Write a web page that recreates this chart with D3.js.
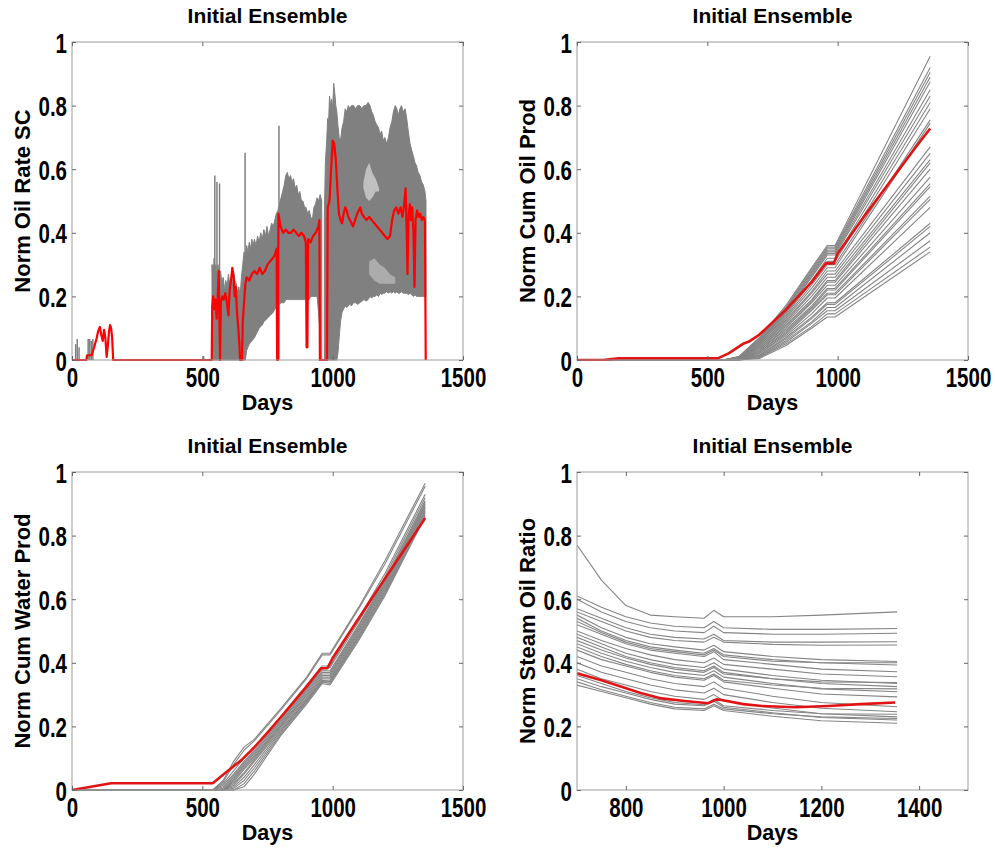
<!DOCTYPE html>
<html>
<head>
<meta charset="utf-8">
<script src="https://cdn.jsdelivr.net/npm/d3@7"></script>
<style>
  body { margin: 0; background: #fff; }
  svg text { font-family: 'Liberation Sans', Arial, Helvetica, sans-serif; font-weight: bold; fill: #000; }
</style>
</head>
<body>
<svg id="chart" width="995" height="848"></svg>
<script>
// ---- data (values normalised 0..1) ----

var xTicksFull = [0, 500, 1000, 1500]
  , xTicksSor = [800, 1000, 1200, 1400]
  , yTicks = [0, 0.2, 0.4, 0.6, 0.8, 1];

// panel 1: oil rate. grey ensemble shown as its envelope + isolated spikes
var bandADays  = [537, 541, 545, 549, 552, 556, 560, 565, 570, 575, 580, 585, 590, 595, 600, 605, 610, 615, 620, 625, 630, 635, 640, 645, 650, 655, 660, 665, 670, 675, 680, 685, 690, 695, 700, 706, 712, 718, 724, 730, 736, 742, 748, 754, 760, 766, 772, 778, 784, 790, 796, 802, 808, 814, 820, 826, 832, 838, 844, 850, 856, 862, 868, 874, 880, 886, 892, 898, 904, 910, 916, 922, 928, 934, 940, 946, 952, 958];
var bandAUpper = [0.30, 0.24, 0.32, 0.27, 0.30, 0.25, 0.30, 0.26, 0.28, 0.24, 0.26, 0.22, 0.25, 0.23, 0.27, 0.24, 0.26, 0.23, 0.28, 0.25, 0.24, 0.21, 0.23, 0.20, 0.26, 0.30, 0.34, 0.32, 0.36, 0.34, 0.37, 0.35, 0.38, 0.36, 0.38, 0.36, 0.39, 0.37, 0.40, 0.38, 0.41, 0.39, 0.42, 0.39, 0.41, 0.43, 0.42, 0.44, 0.46, 0.47, 0.49, 0.51, 0.53, 0.55, 0.58, 0.59, 0.57, 0.58, 0.56, 0.57, 0.54, 0.55, 0.52, 0.53, 0.50, 0.50, 0.48, 0.48, 0.46, 0.47, 0.45, 0.44, 0.48, 0.49, 0.51, 0.50, 0.52, 0.50];
var bandALower = [0, 0, 0, 0, 0, 0, 0, 0, 0, 0, 0, 0, 0, 0, 0, 0, 0, 0, 0, 0, 0, 0, 0, 0, 0, 0, 0, 0, 0.03, 0.04, 0.05, 0.055, 0.06, 0.065, 0.07, 0.08, 0.09, 0.1, 0.105, 0.11, 0.12, 0.125, 0.13, 0.135, 0.14, 0.145, 0.15, 0.16, 0.165, 0.17, 0.175, 0.18, 0.18, 0.18, 0.19, 0.19, 0.19, 0.19, 0.19, 0.19, 0.19, 0.19, 0.19, 0.19, 0.19, 0.19, 0.19, 0.19, 0.19, 0.19, 0.2, 0.2, 0.2, 0.2, 0.2, 0.15, 0.08, 0];

var bandBDays  = [968, 972, 977, 981, 984, 988, 992, 996, 1000, 1004, 1008, 1012, 1016, 1020, 1025, 1030, 1036, 1042, 1048, 1054, 1060, 1066, 1072, 1080, 1088, 1096, 1104, 1112, 1120, 1128, 1136, 1143, 1150, 1156, 1163, 1169, 1176, 1182, 1188, 1194, 1200, 1207, 1214, 1220, 1227, 1233, 1240, 1246, 1252, 1258, 1264, 1271, 1278, 1284, 1290, 1297, 1303, 1310, 1316, 1322, 1328, 1335, 1341, 1348, 1354, 1358];
var bandBUpper = [0.45, 0.62, 0.69, 0.76, 0.74, 0.83, 0.80, 0.82, 0.79, 0.87, 0.84, 0.80, 0.78, 0.74, 0.70, 0.69, 0.73, 0.75, 0.79, 0.78, 0.80, 0.79, 0.80, 0.80, 0.79, 0.80, 0.80, 0.79, 0.80, 0.80, 0.81, 0.80, 0.78, 0.77, 0.75, 0.74, 0.73, 0.71, 0.72, 0.69, 0.70, 0.68, 0.70, 0.73, 0.75, 0.78, 0.80, 0.79, 0.77, 0.79, 0.80, 0.78, 0.79, 0.76, 0.72, 0.68, 0.66, 0.64, 0.62, 0.61, 0.59, 0.58, 0.56, 0.55, 0.53, 0.50];
var bandBLower = [0, 0, 0, 0, 0, 0, 0, 0, 0, 0, 0, 0, 0, 0.02, 0.07, 0.12, 0.15, 0.16, 0.17, 0.165, 0.17, 0.175, 0.17, 0.18, 0.18, 0.175, 0.18, 0.185, 0.19, 0.185, 0.19, 0.2, 0.195, 0.2, 0.2, 0.205, 0.2, 0.21, 0.205, 0.21, 0.21, 0.215, 0.21, 0.215, 0.21, 0.215, 0.21, 0.215, 0.21, 0.21, 0.215, 0.21, 0.21, 0.21, 0.205, 0.21, 0.205, 0.2, 0.205, 0.2, 0.2, 0.2, 0.2, 0.2, 0.2, 0.2];

// light gaps inside the grey cloud
var gapUpperDays = [1118, 1128, 1140, 1152, 1165, 1178];
var gapUpperHi   = [0.56, 0.60, 0.62, 0.59, 0.57, 0.54];
var gapUpperLo   = [0.54, 0.51, 0.50, 0.51, 0.53, 0.53];
var gapLowerDays = [1140, 1160, 1180, 1200, 1220, 1240];
var gapLowerHi   = [0.31, 0.32, 0.30, 0.29, 0.27, 0.26];
var gapLowerLo   = [0.27, 0.25, 0.24, 0.24, 0.24, 0.24];

var spikeDays    = [14, 20, 27, 62, 68, 74, 80, 505, 541, 548, 556, 566, 664, 794];
var spikeHeights = [0.05, 0.066, 0.04, 0.066, 0.066, 0.06, 0.066, 0.012, 0.30, 0.58, 0.56, 0.555, 0.652, 0.737];

var redRateDays = [0, 55, 58, 75, 85, 95, 100, 107, 112, 118, 123, 128, 133, 138, 142, 146, 150, 154, 158,
  536, 538, 542, 546, 550, 555, 559, 563, 566, 568, 571, 576, 582, 588, 594, 600, 605, 610, 615, 620, 624, 628, 633, 638, 642, 645, 652, 655, 660, 665, 670, 680, 690, 700, 710, 720, 730, 740, 750, 760, 770, 778, 785, 787, 790, 792,
  800, 810, 820, 830, 840, 850, 860, 870, 880, 890, 897, 900, 903, 906, 915, 925, 935, 945, 949, 951, 978, 981, 988, 994, 1000, 1006, 1012, 1018, 1024, 1030, 1036, 1042, 1048, 1054, 1060, 1066, 1072, 1078, 1086, 1094, 1100, 1106, 1112, 1120, 1130, 1140, 1150, 1160, 1170, 1180, 1190, 1200, 1210, 1220, 1228, 1236, 1244, 1252, 1260, 1268, 1274, 1280, 1284, 1287, 1291, 1296, 1300, 1305, 1310, 1314, 1318, 1324, 1330, 1336, 1342, 1348, 1354, 1357];
var redRate = [0, 0, 0.015, 0.015, 0.04, 0.07, 0.09, 0.104, 0.08, 0.06, 0.095, 0.07, 0.01, 0.05, 0.09, 0.11, 0.1, 0.07, 0,
  0, 0.17, 0.2, 0.16, 0.19, 0.13, 0.2, 0.28, 0.1, 0, 0.18, 0.2, 0.19, 0.21, 0.18, 0.14, 0.22, 0.25, 0.29, 0.26, 0.2, 0.23, 0.15, 0.1, 0.05, 0, 0, 0.12, 0.18, 0.24, 0.26, 0.25, 0.27, 0.28, 0.27, 0.29, 0.27, 0.28, 0.3, 0.31, 0.32, 0.33, 0.35, 0, 0, 0.46,
  0.42, 0.4, 0.41, 0.4, 0.4, 0.41, 0.4, 0.39, 0.4, 0.39, 0.37, 0.04, 0.04, 0.38, 0.37, 0.39, 0.4, 0.42, 0.44, 0, 0, 0.48, 0.5, 0.6, 0.69, 0.68, 0.63, 0.54, 0.46, 0.44, 0.43, 0.46, 0.48, 0.47, 0.45, 0.44, 0.43, 0.42, 0.44, 0.46, 0.47, 0.48, 0.46, 0.45, 0.44, 0.45, 0.44, 0.43, 0.42, 0.41, 0.4, 0.39, 0.38, 0.39, 0.44, 0.47, 0.48, 0.46, 0.48, 0.45, 0.49, 0.54, 0.4, 0.27, 0.45, 0.49, 0.44, 0.48, 0.4, 0.23, 0.44, 0.47, 0.45, 0.46, 0.44, 0.45, 0.44, 0];

// panel 2: cumulative oil
var cumOilDays = [0, 560, 620, 700, 800, 900, 960, 990, 1355];
var cumOilMembers = [
  [0, 0, 0.01, 0.07, 0.17, 0.29, 0.36, 0.36, 0.955],
  [0, 0, 0.01, 0.07, 0.165, 0.285, 0.355, 0.355, 0.92],
  [0, 0, 0.01, 0.065, 0.16, 0.28, 0.35, 0.35, 0.905],
  [0, 0, 0.008, 0.065, 0.16, 0.275, 0.345, 0.345, 0.89],
  [0, 0, 0.008, 0.06, 0.155, 0.27, 0.34, 0.34, 0.875],
  [0, 0, 0.008, 0.06, 0.15, 0.265, 0.335, 0.335, 0.85],
  [0, 0, 0.006, 0.055, 0.15, 0.26, 0.33, 0.33, 0.83],
  [0, 0, 0.006, 0.055, 0.145, 0.25, 0.32, 0.32, 0.81],
  [0, 0, 0.005, 0.05, 0.14, 0.245, 0.31, 0.31, 0.79],
  [0, 0, 0.005, 0.05, 0.135, 0.235, 0.30, 0.30, 0.755],
  [0, 0, 0.004, 0.045, 0.13, 0.225, 0.29, 0.29, 0.745],
  [0, 0, 0.004, 0.045, 0.125, 0.215, 0.28, 0.28, 0.67],
  [0, 0, 0.003, 0.04, 0.12, 0.21, 0.27, 0.27, 0.65],
  [0, 0, 0.003, 0.04, 0.115, 0.2, 0.26, 0.26, 0.63],
  [0, 0, 0.002, 0.035, 0.11, 0.19, 0.25, 0.25, 0.62],
  [0, 0, 0.002, 0.035, 0.105, 0.185, 0.245, 0.245, 0.60],
  [0, 0, 0.002, 0.03, 0.1, 0.18, 0.235, 0.235, 0.575],
  [0, 0, 0.001, 0.03, 0.095, 0.17, 0.225, 0.225, 0.555],
  [0, 0, 0.001, 0.025, 0.09, 0.165, 0.22, 0.22, 0.545],
  [0, 0, 0, 0.025, 0.085, 0.16, 0.21, 0.21, 0.515],
  [0, 0, 0, 0.02, 0.08, 0.155, 0.205, 0.205, 0.505],
  [0, 0, 0, 0.02, 0.075, 0.145, 0.195, 0.195, 0.48],
  [0, 0, 0, 0.015, 0.07, 0.135, 0.18, 0.18, 0.43],
  [0, 0, 0, 0.015, 0.065, 0.13, 0.175, 0.175, 0.42],
  [0, 0, 0, 0.012, 0.06, 0.12, 0.165, 0.165, 0.40],
  [0, 0, 0, 0.01, 0.055, 0.115, 0.155, 0.155, 0.375],
  [0, 0, 0, 0.008, 0.05, 0.105, 0.145, 0.145, 0.355],
  [0, 0, 0, 0.005, 0.045, 0.1, 0.135, 0.135, 0.34]
];
var redCumOilDays = [0, 100, 160, 540, 580, 640, 660, 700, 800, 900, 955, 985, 1000, 1100, 1200, 1300, 1355];
var redCumOil     = [0, 0, 0.005, 0.005, 0.02, 0.052, 0.058, 0.08, 0.157, 0.245, 0.304, 0.304, 0.335, 0.45, 0.56, 0.67, 0.728];

// panel 3: cumulative water
var cumWaterDays = [0, 540, 580, 620, 660, 700, 800, 900, 960, 990, 1100, 1200, 1355];
var cumWaterMembers = [
  [0, 0, 0.03, 0.09, 0.135, 0.16, 0.255, 0.355, 0.43, 0.43, 0.575, 0.72, 0.965],
  [0, 0, 0.025, 0.08, 0.125, 0.155, 0.25, 0.35, 0.425, 0.425, 0.57, 0.71, 0.955],
  [0, 0, 0.02, 0.06, 0.1, 0.135, 0.23, 0.33, 0.39, 0.39, 0.54, 0.68, 0.93],
  [0, 0, 0.015, 0.05, 0.09, 0.125, 0.22, 0.32, 0.38, 0.385, 0.53, 0.67, 0.92],
  [0, 0, 0.01, 0.045, 0.085, 0.12, 0.215, 0.315, 0.375, 0.375, 0.52, 0.66, 0.91],
  [0, 0, 0.005, 0.04, 0.08, 0.115, 0.21, 0.31, 0.37, 0.37, 0.515, 0.655, 0.905],
  [0, 0, 0, 0.035, 0.075, 0.11, 0.205, 0.305, 0.365, 0.365, 0.51, 0.65, 0.9],
  [0, 0, 0, 0.03, 0.07, 0.105, 0.2, 0.3, 0.36, 0.36, 0.505, 0.645, 0.895],
  [0, 0, 0, 0.025, 0.065, 0.1, 0.2, 0.295, 0.355, 0.355, 0.5, 0.64, 0.89],
  [0, 0, 0, 0.02, 0.055, 0.095, 0.195, 0.29, 0.35, 0.35, 0.495, 0.635, 0.885],
  [0, 0, 0, 0.015, 0.05, 0.09, 0.19, 0.285, 0.345, 0.345, 0.49, 0.63, 0.88],
  [0, 0, 0, 0.01, 0.04, 0.08, 0.185, 0.28, 0.34, 0.34, 0.485, 0.625, 0.875],
  [0, 0, 0, 0.005, 0.03, 0.07, 0.18, 0.28, 0.345, 0.34, 0.48, 0.62, 0.87],
  [0, 0, 0, 0, 0.02, 0.06, 0.175, 0.275, 0.34, 0.335, 0.475, 0.615, 0.865],
  [0, 0, 0, 0, 0.01, 0.05, 0.17, 0.27, 0.335, 0.33, 0.47, 0.61, 0.86]
];
var redCumWaterDays = [0, 150, 540, 590, 650, 700, 760, 800, 900, 955, 980, 1000, 1100, 1200, 1300, 1355];
var redCumWater     = [0, 0.021, 0.021, 0.055, 0.094, 0.135, 0.19, 0.228, 0.325, 0.383, 0.383, 0.415, 0.54, 0.664, 0.787, 0.855];

// panel 4: steam oil ratio
var sorDays = [700, 750, 800, 850, 900, 960, 980, 1000, 1100, 1200, 1355];
var sorMembers = [
  [0.77, 0.66, 0.58, 0.55, 0.545, 0.54, 0.565, 0.545, 0.545, 0.55, 0.56],
  [0.61, 0.575, 0.545, 0.525, 0.515, 0.51, 0.53, 0.51, 0.505, 0.505, 0.508],
  [0.6, 0.56, 0.53, 0.51, 0.5, 0.495, 0.515, 0.495, 0.49, 0.49, 0.493],
  [0.57, 0.54, 0.51, 0.49, 0.48, 0.475, 0.49, 0.47, 0.465, 0.465, 0.466],
  [0.56, 0.53, 0.5, 0.48, 0.47, 0.465, 0.48, 0.465, 0.458, 0.455, 0.456],
  [0.55, 0.51, 0.48, 0.46, 0.45, 0.44, 0.455, 0.435, 0.42, 0.41, 0.404],
  [0.54, 0.5, 0.47, 0.45, 0.44, 0.43, 0.445, 0.425, 0.41, 0.4, 0.393],
  [0.53, 0.495, 0.465, 0.445, 0.435, 0.425, 0.44, 0.42, 0.405, 0.4, 0.4],
  [0.52, 0.49, 0.46, 0.44, 0.43, 0.42, 0.435, 0.41, 0.395, 0.38, 0.372],
  [0.5, 0.47, 0.445, 0.425, 0.41, 0.4, 0.415, 0.395, 0.38, 0.365, 0.356],
  [0.49, 0.46, 0.43, 0.41, 0.395, 0.385, 0.4, 0.38, 0.36, 0.345, 0.335],
  [0.48, 0.45, 0.42, 0.4, 0.385, 0.375, 0.39, 0.37, 0.35, 0.335, 0.325],
  [0.47, 0.44, 0.415, 0.395, 0.38, 0.37, 0.385, 0.365, 0.35, 0.34, 0.338],
  [0.46, 0.43, 0.405, 0.385, 0.37, 0.36, 0.375, 0.355, 0.335, 0.318, 0.309],
  [0.45, 0.42, 0.395, 0.375, 0.36, 0.35, 0.365, 0.345, 0.33, 0.32, 0.318],
  [0.44, 0.41, 0.39, 0.37, 0.355, 0.345, 0.36, 0.34, 0.32, 0.302, 0.293],
  [0.42, 0.39, 0.37, 0.35, 0.335, 0.325, 0.34, 0.32, 0.295, 0.275, 0.262],
  [0.4, 0.37, 0.35, 0.33, 0.315, 0.305, 0.32, 0.3, 0.275, 0.257, 0.246],
  [0.38, 0.35, 0.33, 0.31, 0.295, 0.285, 0.3, 0.28, 0.258, 0.24, 0.23],
  [0.36, 0.335, 0.31, 0.29, 0.275, 0.268, 0.285, 0.265, 0.25, 0.24, 0.238],
  [0.35, 0.325, 0.305, 0.285, 0.27, 0.265, 0.28, 0.26, 0.243, 0.228, 0.22],
  [0.34, 0.315, 0.295, 0.275, 0.26, 0.255, 0.27, 0.255, 0.24, 0.23, 0.225],
  [0.33, 0.31, 0.29, 0.27, 0.255, 0.25, 0.265, 0.25, 0.232, 0.218, 0.21]
];
var redSorDays = [700, 750, 791, 830, 873, 920, 969, 985, 996, 1040, 1078, 1146, 1214, 1280, 1351];
var redSor     = [0.367, 0.345, 0.325, 0.305, 0.288, 0.28, 0.273, 0.285, 0.283, 0.27, 0.264, 0.26, 0.264, 0.27, 0.275];

// ---- drawing ----

var svg = d3.select('#chart')
  , plotW = 391
  , plotH = 318
  , grey = '#808080'
  , red = '#ff0000';

var makePanel = function (left, top, xDomain, xTicks, yLabel) {
  var g = svg.append('g').attr('transform', 'translate(' + left + ',' + top + ')')
    , x = d3.scaleLinear().domain(xDomain).range([0, plotW])
    , y = d3.scaleLinear().domain([0, 1]).range([plotH, 0])
    , clipId = 'clip' + left + '_' + top
    , fmt = function (d) { return String(d); };

  g.append('clipPath').attr('id', clipId)
    .append('rect').attr('x', 0).attr('y', -2).attr('width', plotW).attr('height', plotH + 3);

  var plot = g.append('g').attr('clip-path', 'url(#' + clipId + ')');

  // MATLAB style box with inward ticks on every side
  g.append('rect')
    .attr('width', plotW).attr('height', plotH)
    .attr('fill', 'none').attr('stroke', '#9c9c9c').attr('stroke-width', 1);

  var bottom = g.append('g').attr('transform', 'translate(0,' + plotH + ')')
    .call(d3.axisBottom(x).tickValues(xTicks).tickSize(-4).tickFormat(fmt));
  g.append('g').call(d3.axisTop(x).tickValues(xTicks).tickSize(-4).tickFormat(''));
  var leftAx = g.append('g')
    .call(d3.axisLeft(y).tickValues(yTicks).tickSize(-4).tickFormat(fmt));
  g.append('g').attr('transform', 'translate(' + plotW + ',0)')
    .call(d3.axisRight(y).tickValues(yTicks).tickSize(-4).tickFormat(''));

  g.selectAll('.domain').remove();
  g.selectAll('.tick line').attr('stroke', '#666');

  bottom.selectAll('text')
    .attr('y', null).attr('dy', null)
    .attr('transform', 'translate(0,27) scale(1,1.36)')
    .style('font-size', '20.5px');
  leftAx.selectAll('text')
    .attr('x', null).attr('dy', null)
    .attr('transform', 'translate(-5,10) scale(1,1.36)')
    .style('font-size', '20.5px');

  g.append('text')
    .attr('x', plotW / 2).attr('y', -19)
    .attr('text-anchor', 'middle')
    .style('font-size', '21px')
    .text('Initial Ensemble');

  g.append('text')
    .attr('x', plotW / 2).attr('y', plotH + 50)
    .attr('text-anchor', 'middle')
    .style('font-size', '21.5px')
    .text('Days');

  g.append('text')
    .attr('transform', 'translate(-42,' + (plotH / 2) + ') rotate(-90)')
    .attr('text-anchor', 'middle')
    .style('font-size', '22px')
    .text(yLabel);

  return { plot: plot, x: x, y: y };
};

var drawSeries = function (p, xs, ys, color, width) {
  var line = d3.line()
    .x(function (d) { return p.x(d[0]); })
    .y(function (d) { return p.y(d[1]); });
  p.plot.append('path')
    .datum(xs.map(function (d, i) { return [d, ys[i]]; }))
    .attr('d', line)
    .attr('fill', 'none')
    .attr('stroke', color)
    .attr('stroke-width', width)
    .attr('stroke-linejoin', 'round');
};

var drawBand = function (p, xs, hi, lo, fill, opacity) {
  var area = d3.area()
    .x(function (d) { return p.x(d.day); })
    .y0(function (d) { return p.y(d.lo); })
    .y1(function (d) { return p.y(d.hi); });
  p.plot.append('path')
    .datum(xs.map(function (d, i) { return { day: d, hi: hi[i], lo: lo[i] }; }))
    .attr('d', area)
    .attr('fill', fill)
    .attr('fill-opacity', opacity)
    .attr('stroke', fill === grey ? grey : 'none')
    .attr('stroke-width', 1);
};

// top left
var p1 = makePanel(72, 42, [0, 1500], xTicksFull, 'Norm Oil Rate SC');
drawBand(p1, bandADays, bandAUpper, bandALower, grey, 1);
drawBand(p1, bandBDays, bandBUpper, bandBLower, grey, 1);
drawBand(p1, gapUpperDays, gapUpperHi, gapUpperLo, '#ffffff', 0.5);
drawBand(p1, gapLowerDays, gapLowerHi, gapLowerLo, '#ffffff', 0.35);
p1.plot.selectAll('line.spike')
  .data(spikeDays.map(function (d, i) { return [d, spikeHeights[i]]; }))
  .join('line')
  .attr('class', 'spike')
  .attr('x1', function (d) { return p1.x(d[0]); })
  .attr('x2', function (d) { return p1.x(d[0]); })
  .attr('y1', p1.y(0))
  .attr('y2', function (d) { return p1.y(d[1]); })
  .attr('stroke', grey)
  .attr('stroke-width', 1.5);
drawSeries(p1, redRateDays, redRate, red, 2.2);

// top right
var p2 = makePanel(577, 42, [0, 1500], xTicksFull, 'Norm Cum Oil Prod');
cumOilMembers.forEach(function (m) { drawSeries(p2, cumOilDays, m, '#858585', 1.1); });
drawSeries(p2, redCumOilDays, redCumOil, '#e01414', 2.6);

// bottom left
var p3 = makePanel(72, 472, [0, 1500], xTicksFull, 'Norm Cum Water Prod');
cumWaterMembers.forEach(function (m) { drawSeries(p3, cumWaterDays, m, '#858585', 1.1); });
drawSeries(p3, redCumWaterDays, redCumWater, '#e01414', 2.6);

// bottom right
var p4 = makePanel(577, 472, [700, 1500], xTicksSor, 'Norm Steam Oil Ratio');
sorMembers.forEach(function (m) { drawSeries(p4, sorDays, m, '#858585', 1.1); });
drawSeries(p4, redSorDays, redSor, '#e01414', 2.6);
</script>
</body>
</html>
